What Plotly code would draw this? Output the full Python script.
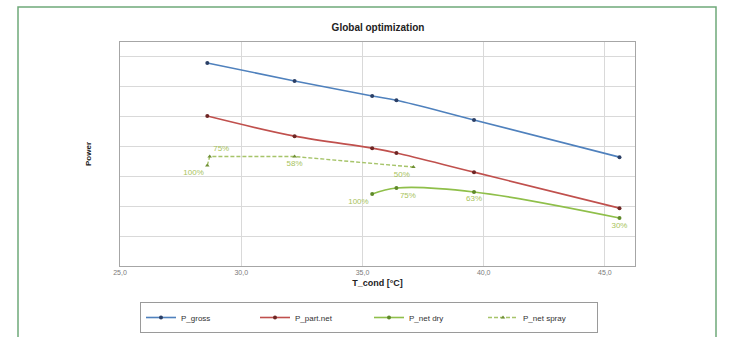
import plotly.graph_objects as go

# Condenser temperature [°C] for the gross / part-net operating points
t_cond = [28.6, 32.2, 35.4, 36.4, 39.6, 45.6]
p_gross = [6.77, 6.17, 5.67, 5.53, 4.87, 3.63]
p_part_net = [5.00, 4.33, 3.93, 3.77, 3.13, 1.93]

# Net power, dry cooling
t_dry = [35.4, 36.4, 39.6, 45.6]
p_dry = [2.40, 2.60, 2.47, 1.60]
lbl_dry = ["100%", "75%", "63%", "30%"]

# Net power, spray cooling
t_spray = [28.6, 28.7, 32.2, 37.1]
p_spray = [3.35, 3.65, 3.65, 3.30]
lbl_spray = ["100%", "75%", "58%", "50%"]

x_ticks = [25, 30, 35, 40, 45]

FONT = "Liberation Sans Narrow, Liberation Sans, Arial"
LBL = "#a8c35c"

fig = go.Figure()
fig.add_trace(go.Scatter(
    x=t_cond, y=p_gross, name="P_gross", mode="lines+markers",
    line=dict(color="#4f81bd", width=1.6, shape="spline"),
    marker=dict(color="#2b3f66", size=4)))
fig.add_trace(go.Scatter(
    x=t_cond, y=p_part_net, name="P_part.net", mode="lines+markers",
    line=dict(color="#c0504d", width=1.6, shape="spline"),
    marker=dict(color="#6e2624", size=4)))
fig.add_trace(go.Scatter(
    x=t_dry, y=p_dry, name="P_net dry", mode="lines+markers+text",
    text=lbl_dry,
    textposition=["bottom left", "bottom right", "bottom center", "bottom center"],
    textfont=dict(color=LBL, size=8, family=FONT),
    line=dict(color="#8fbf4a", width=1.6, shape="spline"),
    marker=dict(color="#5f8a2a", size=4)))
fig.add_trace(go.Scatter(
    x=t_spray, y=p_spray, name="P_net spray", mode="lines+markers+text",
    text=lbl_spray,
    textposition=["bottom left", "top right", "bottom center", "bottom left"],
    textfont=dict(color=LBL, size=8, family=FONT),
    line=dict(color="#a6c46a", width=1.4, dash="4px,2px"),
    marker=dict(color="#6f8f35", size=4, symbol="triangle-up")))

L, R, T, B = 120, 635, 42, 266
W, H = 732, 337


def px(x):
    return (x - L) / (R - L)


def py(y):
    return (B - y) / (B - T)


fig.update_layout(
    width=W, height=H,
    margin=dict(l=L, r=W - R, t=T, b=H - B, autoexpand=False),
    paper_bgcolor="white", plot_bgcolor="white",
    separators=",.",
    font=dict(family=FONT, color="#333333"),
    title=dict(text="<b>Global optimization</b>", x=px(378), xref="paper",
               xanchor="center", y=1 - 27 / H, yanchor="middle",
               font=dict(size=10, color="#222222")),
    xaxis=dict(range=[25, 46.24], tickvals=x_ticks, tickformat=".1f",
               showgrid=True, gridcolor="#d9d9d9", gridwidth=1,
               zeroline=False, showline=True, linecolor="#a6a6a6",
               mirror=True, ticks="",
               tickfont=dict(size=7, color="#7a7a7a"),
               title=dict(text="<b>T_cond [°C]</b>", standoff=4,
                          font=dict(size=9, color="#222222"))),
    yaxis=dict(range=[0, 7.47], dtick=1, showticklabels=False,
               showgrid=True, gridcolor="#d9d9d9", gridwidth=1,
               zeroline=False, showline=True, linecolor="#a6a6a6",
               mirror=True, ticks="",
               title=dict(text="<b>Power</b>", standoff=26,
                          font=dict(size=8, color="#222222"))),
    legend=dict(orientation="h", x=px(140), xanchor="left",
                y=py(302), yanchor="top",
                bordercolor="#9a9a9a", borderwidth=1,
                entrywidth=69, entrywidthmode="pixels",
                font=dict(size=8, color="#333333"), itemwidth=30,
                tracegroupgap=0),
    showlegend=True,
    shapes=[dict(type="rect", xref="paper", yref="paper",
                 x0=px(18), x1=px(716), y0=py(345), y1=py(7),
                 line=dict(color="#6fa97a", width=1.5),
                 fillcolor="rgba(0,0,0,0)", layer="below")],
)

fig.write_html("out.html")
